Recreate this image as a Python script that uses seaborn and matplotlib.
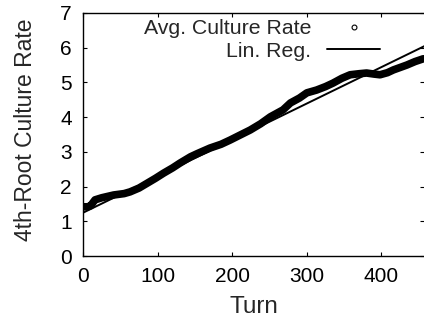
import matplotlib
matplotlib.use("Agg")
import matplotlib.pyplot as plt
import pandas as pd
import seaborn as sns
from matplotlib.lines import Line2D

# values
turns = [0, 6, 10, 16, 25, 41, 55, 63, 75, 86, 97, 108, 120, 130, 144, 153,
         170, 185, 197, 210, 224, 238, 251, 268, 278, 290, 300, 313, 325,
         335, 347, 358, 370, 380, 390, 398, 408, 416, 425, 434, 445, 456]
culture = [1.42, 1.42, 1.45, 1.62, 1.68, 1.76, 1.80, 1.85, 1.96, 2.10, 2.24,
           2.39, 2.54, 2.68, 2.86, 2.95, 3.11, 3.22, 3.34, 3.48, 3.63, 3.81,
           4.01, 4.21, 4.41, 4.55, 4.70, 4.78, 4.88, 4.98, 5.12, 5.22, 5.25,
           5.27, 5.24, 5.22, 5.28, 5.36, 5.43, 5.50, 5.60, 5.68]
reg_turns = [0, 460]
reg_values = [1.25, 6.07]

df = pd.DataFrame({"turn": turns, "rate": culture})
reg = pd.DataFrame({"turn": reg_turns, "rate": reg_values})

sns.set_style("ticks")
plt.rcParams["font.family"] = ["Liberation Sans", "DejaVu Sans"]

fig = plt.figure(figsize=(4.24, 3.23), dpi=100)
ax = fig.add_axes([0.196, 0.207, 0.804, 0.753])

sns.lineplot(data=df, x="turn", y="rate", ax=ax, color="black", lw=5.5,
             solid_capstyle="round", legend=False)
sns.lineplot(data=reg, x="turn", y="rate", ax=ax, color="black", lw=1.4,
             legend=False)

ax.set_xlim(0, 457)
ax.set_ylim(0, 7)
ax.set_xticks([0, 100, 200, 300, 400])
ax.set_yticks(range(0, 8))
ax.tick_params(direction="in", length=3, width=0.8, labelsize=15, pad=8,
               top=True, right=True, colors="black")
for side in ["left", "bottom", "top"]:
    ax.spines[side].set_linewidth(1.0)
    ax.spines[side].set_color("black")
ax.spines["right"].set_visible(False)

ax.set_xlabel("Turn", fontsize=17.5)
ax.set_ylabel("4th-Root Culture Rate", fontsize=16.5)
ax.xaxis.set_label_coords(0.5, -0.165)
ax.yaxis.set_label_coords(-0.135, 0.52)

handles = [
    Line2D([], [], ls="none", marker="o", ms=3.5, mfc="white", mec="black",
           mew=0.8),
    Line2D([], [], color="black", lw=1.4),
]
ax.legend(handles, ["Avg. Culture Rate", "Lin. Reg."], loc="upper right",
          bbox_to_anchor=(0.872, 0.973), frameon=False, markerfirst=False,
          fontsize=15.3, handlelength=2.5, handletextpad=0.75,
          labelspacing=0.15, borderaxespad=0, borderpad=0)

fig.savefig("out.png", dpi=100)
